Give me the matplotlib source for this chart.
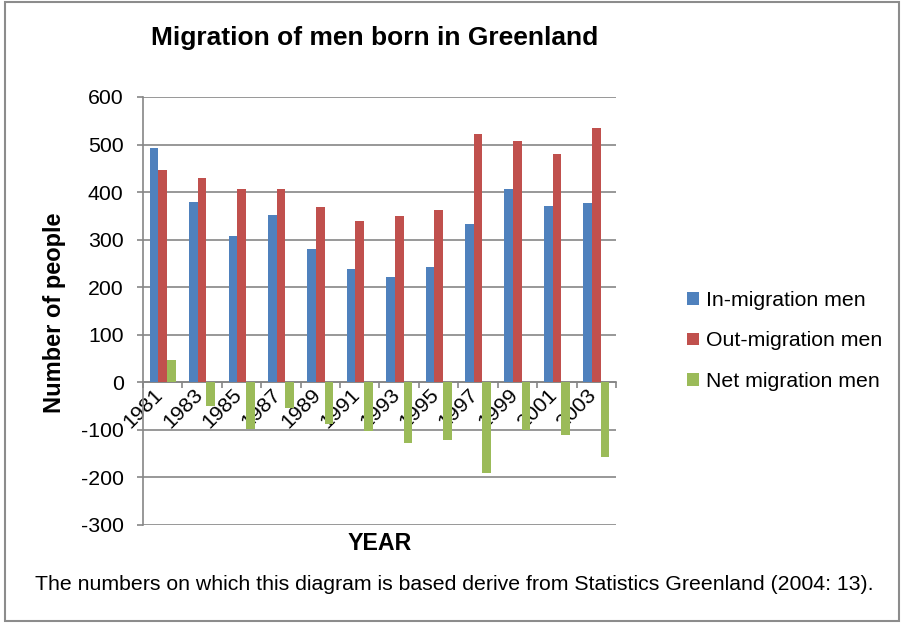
import matplotlib
matplotlib.use('Agg')
import matplotlib.pyplot as plt
import matplotlib.transforms as mtransforms
import numpy as np
from matplotlib.patches import Rectangle

plt.rcParams['font.family'] = ['Liberation Sans', 'DejaVu Sans']
plt.rcParams['axes.unicode_minus'] = False

# data
years = ['1981', '1983', '1985', '1987', '1989', '1991',
         '1993', '1995', '1997', '1999', '2001', '2003']
in_migration = [493, 380, 308, 352, 281, 238, 221, 242, 333, 407, 370, 378]
out_migration = [447, 430, 406, 406, 368, 340, 349, 363, 523, 507, 481, 534]
net_migration = [46, -50, -98, -54, -87, -102, -128, -121, -190, -100, -111, -156]

blue = '#4F81BD'
red = '#C0504D'
green = '#9BBB59'
grid_col = '#868686'

fig = plt.figure(figsize=(9.03, 6.23), dpi=100)
ax = fig.add_axes([143 / 903, 1 - 525 / 623, 473 / 903, 428 / 623])

x = np.arange(len(years))
w = 0.22
ax.bar(x - w, in_migration, w, color=blue, label='In-migration men', zorder=3)
ax.bar(x, out_migration, w, color=red, label='Out-migration men', zorder=3)
ax.bar(x + w, net_migration, w, color=green, label='Net migration men', zorder=3)

ax.set_xlim(-0.5, len(years) - 0.5)
ax.set_ylim(-300, 600)
ax.set_yticks(range(-300, 601, 100))
ax.yaxis.grid(True, color=grid_col, linewidth=1.2, zorder=0)
ax.tick_params(axis='y', length=4.5, width=1.2, color=grid_col, labelsize=15.3, pad=9.5)

# category axis sits on zero
ax.spines['bottom'].set_position(('data', 0))
ax.spines['bottom'].set_color(grid_col)
ax.spines['bottom'].set_linewidth(1.2)
ax.spines['left'].set_color(grid_col)
ax.spines['left'].set_linewidth(1.2)
ax.spines['top'].set_visible(False)
ax.spines['right'].set_visible(False)

ax.set_xticks(np.arange(len(years) + 1) - 0.5)
ax.set_xticklabels([])
ax.tick_params(axis='x', which='major', length=4.5, width=1.2, color=grid_col)
ax.set_xticks(x, minor=True)
ax.set_xticklabels(years, minor=True, rotation=45, ha='right', va='top',
                   fontsize=15.3)
ax.tick_params(axis='x', which='minor', length=0, pad=2)
shift = mtransforms.ScaledTranslation(4 / 100, 0, fig.dpi_scale_trans)
for lab in ax.get_xticklabels(minor=True):
    lab.set_transform(lab.get_transform() + shift)

fig.text(375 / 903, 1 - 38 / 623, 'Migration of men born in Greenland',
         ha='center', va='center', fontsize=19, fontweight='bold')
fig.text(55 / 903, 1 - 313 / 623, 'Number of people', rotation=90,
         ha='center', va='center', fontsize=17, fontweight='bold')
fig.text(380 / 903, 1 - 543 / 623, 'YEAR', ha='center', va='center',
         fontsize=16.7, fontweight='bold')
fig.text(35 / 903, 1 - 585 / 623,
         'The numbers on which this diagram is based derive from Statistics Greenland (2004: 13).',
         ha='left', va='center', fontsize=15.3)

fig.legend(loc='center left', bbox_to_anchor=(679 / 903, 1 - 341 / 623),
           frameon=False, fontsize=15.3, handlelength=0.55, handleheight=0.55,
           handletextpad=0.3, labelspacing=1.0, borderaxespad=0)

fig.patches.append(Rectangle((5 / 903, 2 / 623), 894 / 903, 619 / 623,
                             transform=fig.transFigure, fill=False,
                             edgecolor='#8C8C8C', linewidth=1.5))

fig.savefig('out.png', dpi=100, facecolor='white')
